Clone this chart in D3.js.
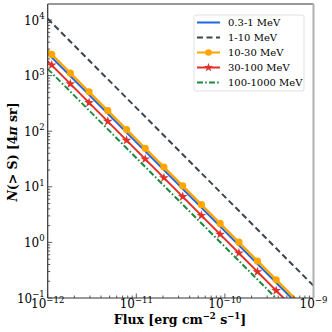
<!DOCTYPE html>
<html>
<head>
<meta charset="utf-8">
<script src="https://cdn.jsdelivr.net/npm/d3@7"></script>
<style>
  body { margin: 0; background: white; }
  text { font-family: "DejaVu Serif", "Liberation Serif", serif; }
</style>
</head>
<body>
<div class="chart"></div>
<script>
// line end points, flux in erg cm^-2 s^-1
var fluxEnds = [1e-12, 1e-9];
var seriesNames = ['0.3-1 MeV', '1-10 MeV', '10-30 MeV', '30-100 MeV', '100-1000 MeV'];
var nBlue = [2510, 0.040];
var nDashed = [10500, 0.166];
var nOrange = [2850, 0.0452];
var nRed = [1820, 0.0288];
var nGreen = [1320, 0.0209];

// marker positions
var fluxMarks = [1.11e-12, 1.80e-12, 2.93e-12, 4.77e-12, 7.76e-12, 1.26e-11, 2.05e-11,
    3.34e-11, 5.43e-11, 8.83e-11, 1.44e-10, 2.33e-10, 3.79e-10];
var orangeMarks = [2415, 1109, 510, 234, 107, 49.3, 22.7, 10.4, 4.78, 2.19, 1.01, 0.463, 0.212];
var redMarks = [1542, 708, 326, 150, 68.5, 31.5, 14.5, 6.65, 3.05, 1.40, 0.644, 0.296, 0.136];

var xTicks = [1e-12, 1e-11, 1e-10, 1e-9];
var xTickExp = ['\u221212', '\u221211', '\u221210', '\u22129'];
var yTicks = [1e-1, 1, 10, 100, 1000, 10000];
var yTickExp = ['\u22121', '0', '1', '2', '3', '4'];

var colorKey = {
    '0.3-1 MeV': '#1f66df',
    '1-10 MeV': '#3b4450',
    '10-30 MeV': '#ffa500',
    '30-100 MeV': '#e0302a',
    '100-1000 MeV': '#1a8a3c'
}
var dashKey = {
    '0.3-1 MeV': null,
    '1-10 MeV': '6,3.5',
    '10-30 MeV': null,
    '30-100 MeV': null,
    '100-1000 MeV': '6,2.2,1.6,2.2'
}
var valueKey = {
    '0.3-1 MeV': nBlue,
    '1-10 MeV': nDashed,
    '10-30 MeV': nOrange,
    '30-100 MeV': nRed,
    '100-1000 MeV': nGreen
}

var W = 332, H = 332;
var pLeft = 47.7, pRight = 313.5, pTop = 4, pBottom = 298;

var svg = d3.select(".chart")
    .append("svg")
    .attr("width", W)
    .attr("height", H)

var x = d3.scaleLog().domain([1e-12, 1e-9]).range([pLeft, pRight]);
var y = d3.scaleLog().domain([0.1, 1.94e4]).range([pBottom, pTop]);

svg.append("clipPath").attr("id", "clip")
    .append("rect")
    .attr("x", pLeft).attr("y", pTop)
    .attr("width", pRight - pLeft).attr("height", pBottom - pTop);

var plot = svg.append("g").attr("clip-path", "url(#clip)");

var line = d3.line()
    .x(function(d) { return x(d[0]); })
    .y(function(d) { return y(d[1]); });

// draw order: green, red, blue, orange, dashed
['100-1000 MeV', '30-100 MeV', '0.3-1 MeV', '10-30 MeV', '1-10 MeV'].forEach(function(name) {
    var vals = valueKey[name];
    plot.append("path")
        .datum(fluxEnds.map(function(f, i) { return [f, vals[i]]; }))
        .attr("d", line)
        .attr("fill", "none")
        .attr("stroke", colorKey[name])
        .attr("stroke-width", name == '10-30 MeV' ? 2.4 : 2)
        .attr("stroke-dasharray", dashKey[name]);
    if (name == '10-30 MeV') {
        plot.selectAll(".omark")
            .data(fluxMarks.map(function(f, i) { return [f, orangeMarks[i]]; }))
            .enter().append("circle")
            .attr("cx", function(d) { return x(d[0]); })
            .attr("cy", function(d) { return y(d[1]); })
            .attr("r", 3.6)
            .attr("fill", colorKey[name]);
    }
    if (name == '30-100 MeV') {
        plot.selectAll(".rmark")
            .data(fluxMarks.map(function(f, i) { return [f, redMarks[i]]; }))
            .enter().append("path")
            .attr("d", d3.symbol().type(d3.symbolStar).size(30))
            .attr("transform", function(d) {
                return "translate(" + x(d[0]) + "," + y(d[1]) + ")";
            })
            .attr("fill", colorKey[name]);
    }
});

// minor ticks
var minorX = [], minorY = [];
[-12, -11, -10].forEach(function(e) {
    for (var k = 2; k < 10; k++) minorX.push(k * Math.pow(10, e));
});
[-1, 0, 1, 2, 3, 4].forEach(function(e) {
    for (var k = 2; k < 10; k++) {
        var v = k * Math.pow(10, e);
        if (v < 1.94e4) minorY.push(v);
    }
});

var ticks = svg.append("g").attr("stroke", "#333").attr("stroke-width", 0.8);
minorX.forEach(function(v) {
    ticks.append("line").attr("x1", x(v)).attr("x2", x(v))
        .attr("y1", pBottom).attr("y2", pBottom - 2.5);
});
xTicks.forEach(function(v) {
    ticks.append("line").attr("x1", x(v)).attr("x2", x(v))
        .attr("y1", pBottom).attr("y2", pBottom - 4.5);
});
minorY.forEach(function(v) {
    ticks.append("line").attr("y1", y(v)).attr("y2", y(v))
        .attr("x1", pLeft).attr("x2", pLeft + 2.5);
});
yTicks.forEach(function(v) {
    ticks.append("line").attr("y1", y(v)).attr("y2", y(v))
        .attr("x1", pLeft).attr("x2", pLeft + 4.5);
});

// frame
svg.append("line").attr("x1", pLeft).attr("x2", pLeft).attr("y1", pTop).attr("y2", pBottom)
    .attr("stroke", "#333").attr("stroke-width", 1.2);
svg.append("line").attr("x1", pLeft).attr("x2", pRight).attr("y1", pBottom).attr("y2", pBottom)
    .attr("stroke", "#333").attr("stroke-width", 1.2);
svg.append("line").attr("x1", pLeft).attr("x2", pRight).attr("y1", pTop).attr("y2", pTop)
    .attr("stroke", "#333").attr("stroke-width", 1.2);
svg.append("line").attr("x1", pRight).attr("x2", pRight).attr("y1", pTop).attr("y2", pBottom)
    .attr("stroke", "#b0b0b0").attr("stroke-width", 2);

// tick labels
yTicks.forEach(function(v, i) {
    var t = svg.append("text")
        .attr("x", pLeft - 3)
        .attr("y", y(v) + 4.5)
        .style("text-anchor", "end")
        .style("font-size", "12px");
    t.append("tspan").text("10");
    t.append("tspan").attr("dy", -5.5).style("font-size", "8.5px").text(yTickExp[i]);
});
xTicks.forEach(function(v, i) {
    var t = svg.append("text")
        .attr("x", x(v))
        .attr("y", pBottom + 10)
        .style("text-anchor", "middle")
        .style("font-size", "12px");
    t.append("tspan").text("10");
    t.append("tspan").attr("dy", -5.5).style("font-size", "8.5px").text(xTickExp[i]);
});

// axis labels
var xl = svg.append("text")
    .attr("x", 180)
    .attr("y", 323.5)
    .style("text-anchor", "middle")
    .style("font-size", "12.5px")
    .style("font-weight", "bold");
xl.append("tspan").text("Flux [erg cm");
xl.append("tspan").attr("dy", -5).style("font-size", "8.5px").text("\u22122");
xl.append("tspan").attr("dy", 5).text(" s");
xl.append("tspan").attr("dy", -5).style("font-size", "8.5px").text("\u22121");
xl.append("tspan").attr("dy", 5).text("]");

var yl = svg.append("text")
    .attr("transform", "translate(17," + 152 + ") rotate(-90)")
    .style("text-anchor", "middle")
    .style("font-size", "12.5px")
    .style("font-weight", "bold");
yl.append("tspan").style("font-style", "italic").text("N");
yl.append("tspan").text("(> ");
yl.append("tspan").text("S");
yl.append("tspan").text(") [4");
yl.append("tspan").style("font-style", "italic").text("\u03c0");
yl.append("tspan").text(" sr]");

// legend
var legend = svg.append("g");
legend.append("rect")
    .attr("x", 194).attr("y", 15)
    .attr("width", 110).attr("height", 76)
    .attr("rx", 2).attr("ry", 2)
    .attr("fill", "white")
    .attr("stroke", "#d8d8d8")
    .style("stroke-width", 0.8);

var legendRow = legend.selectAll(".legendRow")
    .data(seriesNames)
    .enter().append("g")
    .attr("class", "legendRow")
    .attr("transform", function(d, i) {
        return "translate(0, " + (22.5 + i * 15) + ")";
    })

legendRow.append("line")
    .attr("x1", 197).attr("x2", 220)
    .attr("y1", 0).attr("y2", 0)
    .attr("stroke", function(d) { return colorKey[d]; })
    .attr("stroke-width", 2)
    .attr("stroke-dasharray", function(d) { return dashKey[d]; });

legendRow.filter(function(d) { return d == '10-30 MeV'; })
    .append("circle")
    .attr("cx", 208.5).attr("cy", 0).attr("r", 3.3)
    .attr("fill", colorKey['10-30 MeV']);

legendRow.filter(function(d) { return d == '30-100 MeV'; })
    .append("path")
    .attr("d", d3.symbol().type(d3.symbolStar).size(26))
    .attr("transform", "translate(208.5,0)")
    .attr("fill", colorKey['30-100 MeV']);

legendRow.append("text")
    .attr("x", 228)
    .attr("y", 3.6)
    .text(function(d) { return d; })
    .style("text-anchor", "start")
    .style("font-size", "10px");
</script>
</body>
</html>
